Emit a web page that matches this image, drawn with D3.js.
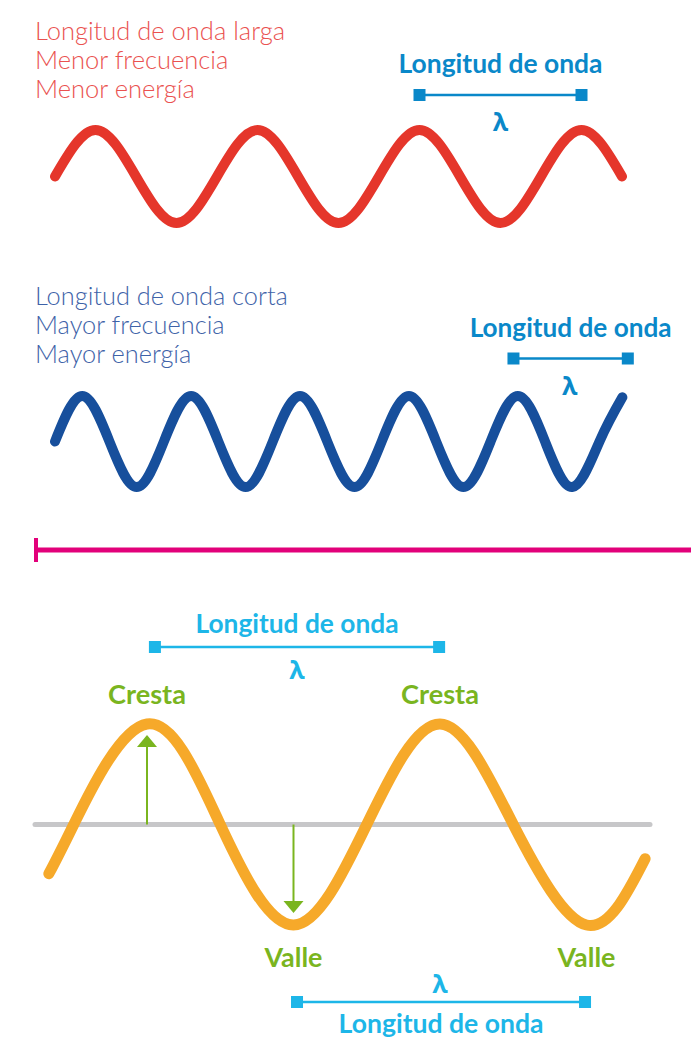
<!DOCTYPE html>
<html>
<head>
<meta charset="utf-8">
<script src="https://cdn.jsdelivr.net/npm/d3@7"></script>
<style>
  html, body { margin: 0; padding: 0; background: #ffffff; }
  svg { display: block; }
</style>
</head>
<body>
<div id="chart"></div>
<script>
// ---------- data ----------
const redTitle = ["Longitud de onda larga", "Menor frecuencia", "Menor energía"];
const blueTitle = ["Longitud de onda corta", "Mayor frecuencia", "Mayor energía"];
const waveLabel = "Longitud de onda";
const lambdaLabel = "λ";
const crestLabel = "Cresta";
const troughLabel = "Valle";

// red wave (x in wavelengths, y in amplitude units)
const redWaveX = [0, 0.25, 0.5, 0.75, 1, 1.25, 1.5, 1.75, 2, 2.25, 2.5, 2.75, 3, 3.25, 3.5];
const redWaveY = [0, 1, 0, -1, 0, 1, 0, -1, 0, 1, 0, -1, 0, 1, 0];
const redLambda = [2.25, 3.25];

// blue wave
const blueWaveX = [0, 0.25, 0.5, 0.75, 1, 1.25, 1.5, 1.75, 2, 2.25, 2.5, 2.75, 3, 3.25, 3.5, 3.75, 4, 4.25, 4.5, 4.75, 5, 5.21];
const blueWaveY = [0, 1, 0, -1, 0, 1, 0, -1, 0, 1, 0, -1, 0, 1, 0, -1, 0, 1, 0, -1, 0, 0.97];
const blueLambda = [4.21, 5.26];

// orange wave
const orangeWaveX = [-0.335, -0.25, 0, 0.25, 0.5, 0.75, 1, 1.25, 1.5, 1.70];
const orangeWaveY = [-0.49, 0, 1, 0, -1, 0, 1, 0, -1, -0.34];
const crestX = [0, 1];
const troughX = [0.5, 1.5];
const lambdaTop = [0.027, 0.997];
const lambdaBottom = [0.512, 1.495];

// ---------- layout ----------
const W = 691, H = 1049;
const C = {
  red: "#e5362b", redText: "#ea5250",
  blue: "#174f9c", blueText: "#3e62a8",
  label: "#0a88c9", cyan: "#1db6e8",
  magenta: "#e2007a", orange: "#f6a92a", gray: "#c7c7c9", green: "#7ab51f"
};
const FONT = "Lato, 'Open Sans', 'DejaVu Sans', sans-serif";

const svg = d3.select("#chart").append("svg").attr("width", W).attr("height", H);

function fit(sel, w) {
  const cur = sel.node().getComputedTextLength();
  const fs = parseFloat(sel.attr("font-size"));
  if (cur > 0) sel.attr("font-size", (fs * w / cur).toFixed(2));
  return sel;
}
function text(x, y, str, color, size, weight, anchor, w) {
  const t = svg.append("text").attr("x", x).attr("y", y).text(str)
    .attr("fill", color).attr("font-size", size).attr("font-weight", weight)
    .attr("font-family", FONT).attr("text-anchor", anchor || "start");
  if (w) fit(t, w);
  return t;
}
function wave(xs, ys, sx, sy, color, width) {
  const pts = xs.map((x, i) => [x, ys[i]]);
  const line = d3.line().x(d => sx(d[0])).y(d => sy(d[1])).curve(d3.curveNatural);
  svg.append("path").attr("d", line(pts)).attr("fill", "none")
    .attr("stroke", color).attr("stroke-width", width)
    .attr("stroke-linecap", "round").attr("stroke-linejoin", "round");
}
function dimension(x0, x1, y, color) {
  svg.append("line").attr("x1", x0).attr("x2", x1).attr("y1", y).attr("y2", y)
    .attr("stroke", color).attr("stroke-width", 2.5);
  [x0, x1].forEach(x => svg.append("rect").attr("x", x - 6).attr("y", y - 6)
    .attr("width", 12).attr("height", 12).attr("fill", color));
}
function lambda(x, y, color) {
  return svg.append("text").attr("x", x).attr("y", y).text(lambdaLabel)
    .attr("fill", color).attr("font-size", 25).attr("font-weight", 700)
    .attr("font-family", "'Open Sans', Lato, sans-serif").attr("text-anchor", "middle");
}

// ---------- red section ----------
const xR = d3.scaleLinear().domain([0, 3.5]).range([55, 622]);
const yR = d3.scaleLinear().domain([-1, 1]).range([223, 130]);
redTitle.forEach((s, i) => text(35, 40 + i * 29, s, C.redText, 24, 300, "start",
  i === 0 ? 250 : null));
wave(redWaveX, redWaveY, xR, yR, C.red, 10);
dimension(xR(redLambda[0]), xR(redLambda[1]), 95, C.label);
const rMid = (xR(redLambda[0]) + xR(redLambda[1])) / 2;
text(rMid, 73, waveLabel, C.label, 22, 700, "middle", 204);
lambda(rMid, 131, C.label);

// ---------- blue section ----------
const xB = d3.scaleLinear().domain([0, 5]).range([55, 599.5]);
const yB = d3.scaleLinear().domain([-1, 1]).range([487, 396]);
blueTitle.forEach((s, i) => text(35, 305 + i * 29, s, C.blueText, 24, 300, "start",
  i === 0 ? 253 : null));
wave(blueWaveX, blueWaveY, xB, yB, C.blue, 10);
dimension(xB(blueLambda[0]), xB(blueLambda[1]), 358.5, C.label);
const bMid = (xB(blueLambda[0]) + xB(blueLambda[1])) / 2;
text(bMid, 337, waveLabel, C.label, 22, 700, "middle", 202);
lambda(bMid - 1, 395, C.label);

// sync title font sizes within each block
function syncSizes() {
  const texts = svg.selectAll("text").nodes();
  [redTitle, blueTitle].forEach(lines => {
    const first = texts.find(n => n.textContent === lines[0]);
    const fs = first.getAttribute("font-size");
    texts.filter(n => lines.includes(n.textContent)).forEach(n => n.setAttribute("font-size", fs));
  });
}
syncSizes();

// ---------- divider ----------
svg.append("line").attr("x1", 35).attr("x2", W).attr("y1", 550).attr("y2", 550)
  .attr("stroke", C.magenta).attr("stroke-width", 5);
svg.append("line").attr("x1", 36).attr("x2", 36).attr("y1", 538).attr("y2", 562)
  .attr("stroke", C.magenta).attr("stroke-width", 4);

// ---------- orange section ----------
const xO = d3.scaleLinear().domain([0, 1]).range([147, 440]);
const yO = d3.scaleLinear().domain([-1, 1]).range([925, 724]);

svg.append("line").attr("x1", 35).attr("x2", 650).attr("y1", yO(0)).attr("y2", yO(0))
  .attr("stroke", C.gray).attr("stroke-width", 5).attr("stroke-linecap", "round");

wave(orangeWaveX, orangeWaveY, xO, yO, C.orange, 11);

// crest arrow (up) and trough arrow (down)
function arrow(x, yFrom, yTip, dir) {
  svg.append("line").attr("x1", x).attr("x2", x).attr("y1", yFrom).attr("y2", yTip + dir * 10)
    .attr("stroke", C.green).attr("stroke-width", 2);
  svg.append("path").attr("d", d3.line()([[x, yTip], [x - 10, yTip + dir * 12], [x + 10, yTip + dir * 12]]) + "Z")
    .attr("fill", C.green);
}
arrow(xO(crestX[0]), yO(0), yO(1) + 11, 1);
arrow(xO(troughX[0]), yO(0), yO(-1) - 12, -1);

crestX.forEach(x => text(xO(x), 704, crestLabel, C.green, 23, 700, "middle", 78));
troughX.forEach(x => text(xO(x), 967, troughLabel, C.green, 23, 700, "middle", 58));

dimension(xO(lambdaTop[0]), xO(lambdaTop[1]), 647, C.cyan);
const tMid = (xO(lambdaTop[0]) + xO(lambdaTop[1])) / 2;
text(tMid, 633, waveLabel, C.cyan, 22, 700, "middle", 203);
lambda(tMid, 679, C.cyan);

dimension(xO(lambdaBottom[0]), xO(lambdaBottom[1]), 1002, C.cyan);
const bbMid = (xO(lambdaBottom[0]) + xO(lambdaBottom[1])) / 2;
lambda(bbMid - 1, 993, C.cyan);
text(bbMid, 1033, waveLabel, C.cyan, 22, 700, "middle", 205);
</script>
</body>
</html>
